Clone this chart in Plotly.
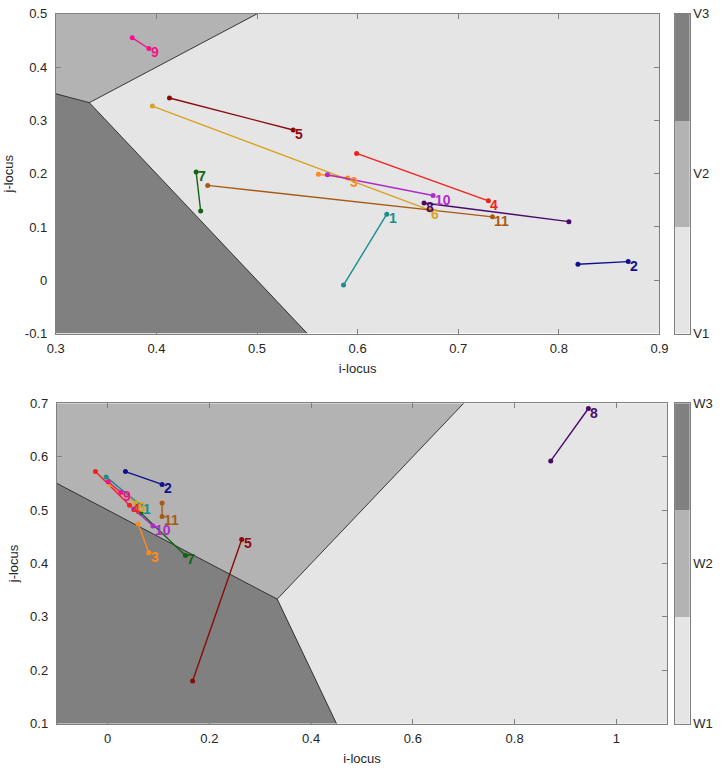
import plotly.graph_objects as go

# ---------------- data ----------------
labels = ["1", "2", "3", "4", "5", "6", "7", "8", "9", "10", "11"]
colors = ["#178f8a", "#10108c", "#ff8c1a", "#f2201e", "#8b0a0a", "#d9a21f",
          "#116411", "#4a0a6a", "#f0148c", "#b02cc8", "#a85a12"]

# top panel (V): start -> end (label at end)
top_x0 = [0.586, 0.819, 0.561, 0.599, 0.413, 0.396, 0.444, 0.810, 0.376, 0.570, 0.451]
top_y0 = [-0.009, 0.030, 0.199, 0.238, 0.342, 0.327, 0.130, 0.110, 0.455, 0.198, 0.178]
top_x1 = [0.629, 0.869, 0.590, 0.730, 0.536, 0.671, 0.4395, 0.666, 0.3925, 0.675, 0.734]
top_y1 = [0.124, 0.035, 0.192, 0.149, 0.282, 0.132, 0.203, 0.145, 0.435, 0.159, 0.119]

# bottom panel (W)
bot_x0 = [-0.003, 0.035, 0.060, -0.024, 0.167, 0.004, 0.0654, 0.871, 0.001, 0.051, 0.107]
bot_y0 = [0.562, 0.572, 0.474, 0.572, 0.180, 0.548, 0.4945, 0.592, 0.553, 0.502, 0.513]
bot_x1 = [0.065, 0.107, 0.081, 0.043, 0.2635, 0.055, 0.153, 0.945, 0.026, 0.089, 0.107]
bot_y1 = [0.509, 0.548, 0.420, 0.509, 0.445, 0.513, 0.415, 0.690, 0.533, 0.470, 0.488]

# region polygons
topV1_x = [1/3, 0.5, 0.9, 0.9, 0.55]
topV1_y = [1/3, 0.5, 0.5, -0.1, -0.1]
topV2_x = [0.3, 1/3, 0.5, 0.3]
topV2_y = [0.35, 1/3, 0.5, 0.5]
topV3_x = [0.3, 1/3, 0.55, 0.3]
topV3_y = [0.35, 1/3, -0.1, -0.1]
top_edges = [([0.3, 1/3], [0.35, 1/3]), ([1/3, 0.5], [1/3, 0.5]), ([1/3, 0.55], [1/3, -0.1])]

botW1_x = [1/3, 0.7, 1.1, 1.1, 0.45]
botW1_y = [1/3, 0.7, 0.7, 0.1, 0.1]
botW2_x = [-0.1, 1/3, 0.7, -0.1]
botW2_y = [0.55, 1/3, 0.7, 0.7]
botW3_x = [-0.1, 1/3, 0.45, -0.1]
botW3_y = [0.55, 1/3, 0.1, 0.1]
bot_edges = [([-0.1, 1/3], [0.55, 1/3]), ([1/3, 0.7], [1/3, 0.7]), ([1/3, 0.45], [1/3, 0.1])]

region_colors = ["#e5e5e5", "#b3b3b3", "#808080"]
top_cb_labels = ["V1", "V2", "V3"]
bot_cb_labels = ["W1", "W2", "W3"]

FONT = "Liberation Sans, Arial, sans-serif"
AX = "#808080"
TXT = "#262626"

fig = go.Figure()

def add_regions(xa, ya, polys, edges):
    for (px, py), c in zip(polys, region_colors):
        fig.add_trace(go.Scatter(x=px, y=py, fill="toself", fillcolor=c, mode="none",
                                 hoverinfo="skip", showlegend=False, xaxis=xa, yaxis=ya))
    for ex, ey in edges:
        fig.add_trace(go.Scatter(x=ex, y=ey, mode="lines", line=dict(color="#111111", width=0.8),
                                 hoverinfo="skip", showlegend=False, xaxis=xa, yaxis=ya))

def add_series(xa, ya, x0, y0, x1, y1, xref, yref):
    for i, lab in enumerate(labels):
        fig.add_trace(go.Scatter(x=[x0[i], x1[i]], y=[y0[i], y1[i]], mode="lines+markers",
                                 line=dict(color=colors[i], width=1.4),
                                 marker=dict(color=colors[i], size=5),
                                 showlegend=False, xaxis=xa, yaxis=ya))
        fig.add_annotation(x=x1[i], y=y1[i], xref=xref, yref=yref, text="<b>%s</b>" % lab,
                           showarrow=False, xanchor="left", yanchor="middle",
                           xshift=0, yshift=-4,
                           font=dict(family=FONT, size=14, color=colors[i]))

add_regions("x", "y", [(topV1_x, topV1_y), (topV2_x, topV2_y), (topV3_x, topV3_y)], top_edges)
add_series("x", "y", top_x0, top_y0, top_x1, top_y1, "x", "y")
add_regions("x2", "y2", [(botW1_x, botW1_y), (botW2_x, botW2_y), (botW3_x, botW3_y)], bot_edges)
add_series("x2", "y2", bot_x0, bot_y0, bot_x1, bot_y1, "x2", "y2")

for xa, ya in (("x3", "y3"), ("x4", "y4")):
    fig.add_trace(go.Heatmap(z=[[0], [1], [2]], x=[0], y=[0.5, 1.5, 2.5],
                             colorscale=[[0, region_colors[0]], [0.5, region_colors[1]], [1, region_colors[2]]],
                             showscale=False, hoverinfo="skip", xaxis=xa, yaxis=ya))

W, H = 725, 773
def dom(a, b, total, flip=False):
    if flip:
        return [1 - b / total, 1 - a / total]
    return [a / total, b / total]

axis_common = dict(showgrid=False, zeroline=False, showline=True, linecolor=AX, linewidth=1,
                   mirror="ticks", ticks="inside", ticklen=5, tickcolor=AX,
                   tickfont=dict(family=FONT, size=13, color=TXT))
xtitle = dict(text="i-locus", font=dict(family=FONT, size=13, color=TXT), standoff=8)
ytitle = dict(text="j-locus", font=dict(family=FONT, size=13, color=TXT), standoff=8)

fig.update_layout(
    width=W, height=H, margin=dict(l=0, r=0, t=0, b=0),
    paper_bgcolor="white", plot_bgcolor="white", showlegend=False,
    xaxis=dict(domain=dom(48, 667, W), range=[0.3, 0.9], anchor="y",
               tickvals=[0.3, 0.4, 0.5, 0.6, 0.7, 0.8, 0.9], ticklabelstandoff=3,
               title=xtitle, **axis_common),
    yaxis=dict(domain=dom(7, 333, H, True), range=[-0.1, 0.5], anchor="x",
               tickvals=[-0.1, 0, 0.1, 0.2, 0.3, 0.4, 0.5],
               ticktext=["-0.1", "0", "0.1", "0.2", "0.3", "0.4", "0.5"], ticklabelstandoff=5,
               title=ytitle, **axis_common),
    xaxis2=dict(domain=dom(49, 675, W), range=[-0.1, 1.1], anchor="y2",
                tickvals=[0, 0.2, 0.4, 0.6, 0.8, 1],
                ticktext=["0", "0.2", "0.4", "0.6", "0.8", "1"], ticklabelstandoff=3,
                title=xtitle, **axis_common),
    yaxis2=dict(domain=dom(404, 731, H, True), range=[0.1, 0.7], anchor="x2",
                tickvals=[0.1, 0.2, 0.3, 0.4, 0.5, 0.6, 0.7], ticklabelstandoff=5,
                title=ytitle, **axis_common),
    xaxis3=dict(domain=dom(683, 698, W), range=[-0.5, 0.5], anchor="y3",
                showticklabels=False, ticks="", showgrid=False, zeroline=False,
                showline=True, mirror=True, linecolor=AX),
    yaxis3=dict(domain=dom(7, 333, H, True), range=[0, 3], anchor="x3", side="right",
                tickvals=[0, 1.5, 3], ticktext=top_cb_labels, ticks="", showgrid=False,
                zeroline=False, showline=True, mirror=True, linecolor=AX,
                tickfont=dict(family=FONT, size=13, color=TXT)),
    xaxis4=dict(domain=dom(683, 698, W), range=[-0.5, 0.5], anchor="y4",
                showticklabels=False, ticks="", showgrid=False, zeroline=False,
                showline=True, mirror=True, linecolor=AX),
    yaxis4=dict(domain=dom(404, 731, H, True), range=[0, 3], anchor="x4", side="right",
                tickvals=[0, 1.5, 3], ticktext=bot_cb_labels, ticks="", showgrid=False,
                zeroline=False, showline=True, mirror=True, linecolor=AX,
                tickfont=dict(family=FONT, size=13, color=TXT)),
)

fig.write_html("out.html")
